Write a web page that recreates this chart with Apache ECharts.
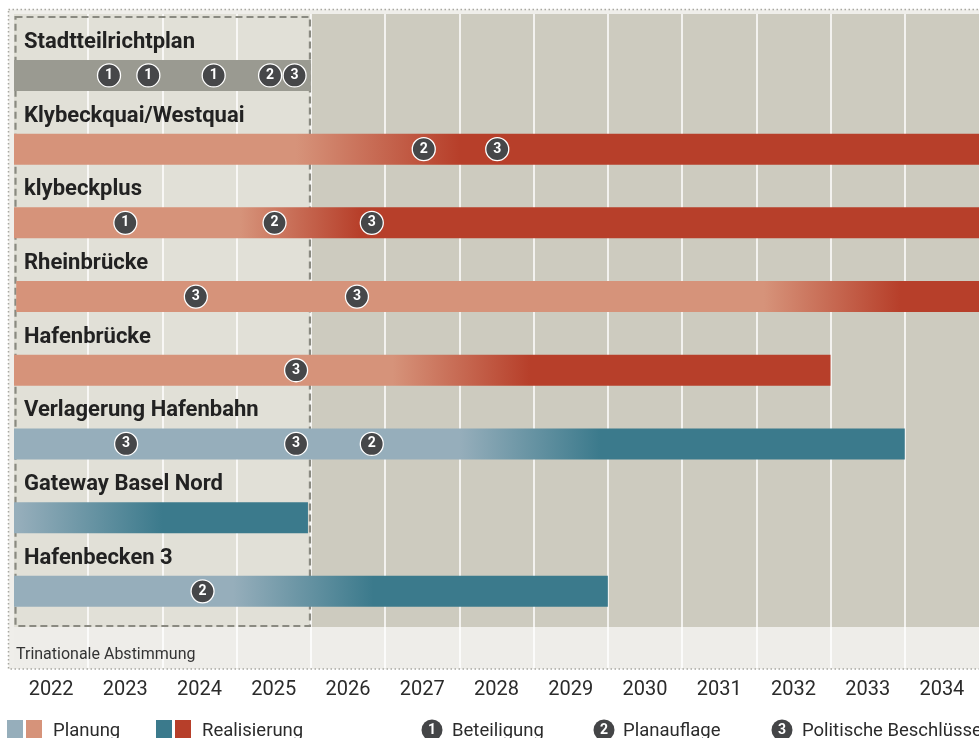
<!DOCTYPE html>
<html><head><meta charset="utf-8">
<script src="https://cdn.jsdelivr.net/npm/echarts@6/dist/echarts.min.js"></script>
<style>html,body{margin:0;padding:0;background:#fff}#c{width:979px;height:738px}</style>
</head><body><div id="c"></div>
<script>
// ---- data ----
const rowNames = ['Stadtteilrichtplan','Klybeckquai/Westquai','klybeckplus','Rheinbrücke','Hafenbrücke','Verlagerung Hafenbahn','Gateway Basel Nord','Hafenbecken 3'];
const rowScheme = ['grey','red','red','red','red','blue','blue','blue'];
const barStart = [2022, 2022, 2022, 2022.03, 2022, 2022, 2022, 2022];
const barEnd   = [2026, 2035, 2035, 2035, 2033, 2034, 2025.96, 2030];
const realStart = [null, 2025.8, 2025.05, 2032.1, 2027.1, 2028.0, 2022.05, 2024.95];
const realFull  = [null, 2028.0, 2026.66, 2033.94, 2028.95, 2029.9, 2024.0, 2026.84];
const markerX   = [2023.28, 2023.81, 2024.69, 2025.45, 2025.78, 2027.52, 2028.51, 2023.5, 2025.51, 2026.82, 2024.45, 2026.62, 2025.8, 2023.51, 2025.8, 2026.82, 2024.54];
const markerRow = [0,0,0,0,0,1,1,2,2,2,3,3,4,5,5,5,7];
const markerNum = [1,1,1,2,3,2,3,1,2,3,3,3,3,3,3,2,2];
const yearLabels = ['2022','2023','2024','2025','2026','2027','2028','2029','2030','2031','2032','2033','2034'];
const abstStart = 2022, abstEnd = 2026;
const abstLabel = 'Trinationale Abstimmung';
const legendLabels = ['Planung','Realisierung','Beteiligung','Planauflage','Politische Beschlüsse'];

// ---- styles ----
const schemes = {
  grey: {light:'#9a9a91', dark:'#9a9a91'},
  red:  {light:'#d6937a', dark:'#b73f2a'},
  blue: {light:'#96aebb', dark:'#3b7a8c'}
};
const FONT = 'Roboto';

const chart = echarts.init(document.getElementById('c'));

const barData = rowNames.map((n, i) => [i, barStart[i], barEnd[i],
  realStart[i] == null ? barEnd[i] : realStart[i],
  realFull[i] == null ? barEnd[i] : realFull[i]]);
const markerData = markerX.map((x, k) => [x, markerRow[k], markerNum[k]]);

function legendCircle(cx, num) {
  return [
    {type:'circle', shape:{cx, cy:730, r:10.5}, style:{fill:'#444547'}},
    {type:'text', x:cx, y:730, style:{text:String(num), fill:'#fff', font:'bold 14px ' + FONT, align:'center', verticalAlign:'middle'}}
  ];
}
function legendText(x, t) {
  return {type:'text', x, y:731, style:{text:t, fill:'#2b2b2b', font:'18.5px ' + FONT, align:'left', verticalAlign:'middle'}};
}

const option = {
  animation: false,
  grid: {left:14, right:0, top:14, bottom:70},
  xAxis: [
    {type:'value', min:2022, max:2035, interval:1, position:'top',
     axisLabel:{show:false}, axisLine:{show:false}, axisTick:{show:false},
     splitLine:{show:true, showMinLine:false, showMaxLine:false, lineStyle:{color:'#ffffff', width:1.5}}},
    {type:'category', data:yearLabels, position:'bottom', boundaryGap:true,
     axisLine:{show:false}, axisTick:{show:false}, splitLine:{show:false},
     axisLabel:{color:'#2b2b2b', fontSize:20, fontFamily:FONT, margin:12}}
  ],
  yAxis: {type:'value', min:-0.834, max:8.04, inverse:true, show:false},
  graphic: [
    {type:'rect', z:-10, shape:{x:8.5, y:9.5, width:1000, height:659.5},
     style:{fill:'#efeeea', stroke:'#a8a8a1', lineWidth:1.5, lineDash:[1.5,2.5]}},
    {type:'rect', shape:{x:7, y:720, width:16, height:20}, style:{fill:schemes.blue.light}},
    {type:'rect', shape:{x:26, y:720, width:16, height:20}, style:{fill:schemes.red.light}},
    legendText(53, legendLabels[0]),
    {type:'rect', shape:{x:156, y:720, width:16, height:20}, style:{fill:schemes.blue.dark}},
    {type:'rect', shape:{x:175, y:720, width:16, height:20}, style:{fill:schemes.red.dark}},
    legendText(202, legendLabels[1]),
    ...legendCircle(432, 1), legendText(452, legendLabels[2]),
    ...legendCircle(604, 2), legendText(623, legendLabels[3]),
    ...legendCircle(782, 3), legendText(802, legendLabels[4])
  ],
  series: [
    { // background zones
      type:'custom', z:-1, silent:true, xAxisIndex:0, data:[[abstStart, 0]],
      renderItem(params, api) {
        const cs = params.coordSys;
        const xs = api.coord([abstEnd, 0])[0];
        const bandTop = cs.y + cs.height - 41;
        return {type:'group', children:[
          {type:'rect', shape:{x:cs.x, y:cs.y, width:cs.width, height:cs.height}, style:{fill:'#eeede9'}},
          {type:'rect', shape:{x:cs.x, y:cs.y, width:xs - cs.x, height:bandTop - cs.y}, style:{fill:'#e1e0d7'}},
          {type:'rect', shape:{x:xs, y:cs.y, width:cs.x + cs.width - xs, height:bandTop - cs.y}, style:{fill:'#cdcbbf'}}
        ]};
      }
    },
    { // dashed box + label
      type:'custom', z:1, silent:true, xAxisIndex:0, data:[[abstStart, 0]],
      renderItem(params, api) {
        const cs = params.coordSys;
        const x0 = api.coord([abstStart, 0])[0] + 1.5;
        const x1 = api.coord([abstEnd, 0])[0] - 1;
        const bandTop = cs.y + cs.height - 41;
        return {type:'group', children:[
          {type:'rect', shape:{x:x0, y:cs.y + 3, width:x1 - x0, height:bandTop - 1 - cs.y - 3},
           style:{fill:'none', stroke:'#8a8a81', lineWidth:2.2, lineDash:[7,4]}},
          {type:'text', x:cs.x + 2, y:654.5, style:{text:abstLabel, fill:'#333', font:'16px ' + FONT, align:'left', verticalAlign:'middle'}}
        ]};
      }
    },
    { // bars + row titles
      type:'custom', z:2, silent:true, xAxisIndex:0, data:barData, encode:{x:[1,2], y:0},
      renderItem(params, api) {
        const i = api.value(0);
        const s = api.value(1), e = api.value(2), gs = api.value(3), ge = api.value(4);
        const p0 = api.coord([s, i]), p1 = api.coord([e, i]);
        const h = 31;
        const sc = schemes[rowScheme[i]];
        let fill = sc.light;
        if (sc.light !== sc.dark) {
          const a = Math.max(0, Math.min(1, (gs - s) / (e - s)));
          const b = Math.max(0, Math.min(1, (ge - s) / (e - s)));
          fill = new echarts.graphic.LinearGradient(0, 0, 1, 0, [
            {offset:0, color:sc.light}, {offset:a, color:sc.light},
            {offset:b, color:sc.dark}, {offset:1, color:sc.dark}
          ]);
        }
        const lx = api.coord([abstStart, i])[0] + 10;
        return {type:'group', children:[
          {type:'rect', shape:{x:p0[0], y:p0[1] - h / 2, width:p1[0] - p0[0], height:h}, style:{fill}},
          {type:'text', x:lx, y:p0[1] - 33, style:{text:rowNames[i], fill:'#222', font:'bold 22px ' + FONT, align:'left', verticalAlign:'middle'}}
        ]};
      }
    },
    { // milestone markers
      type:'scatter', z:3, silent:true, xAxisIndex:0, data:markerData, encode:{x:0, y:1},
      symbol:'circle', symbolSize:23,
      itemStyle:{color:'#464749', borderColor:'#ffffff', borderWidth:1.3, opacity:1},
      label:{show:true, position:'inside', formatter:p => String(p.value[2]), color:'#fff', fontWeight:'bold', fontSize:14, fontFamily:FONT}
    }
  ]
};
chart.setOption(option);
</script>
</body></html>
